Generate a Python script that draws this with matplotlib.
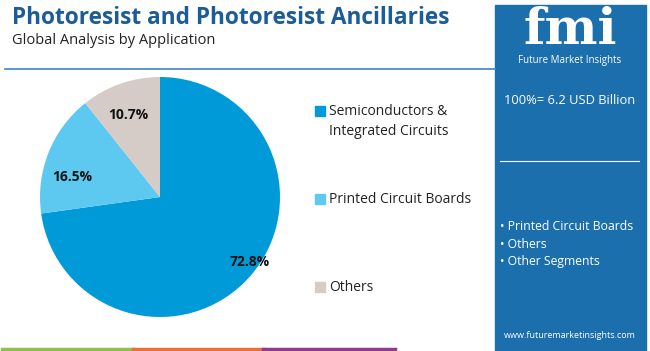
import matplotlib.pyplot as plt
from matplotlib.patches import Rectangle

categories = ["Semiconductors &\nIntegrated Circuits", "Printed Circuit Boards", "Others"]
shares = [72.8, 16.5, 10.7]
colors = ["#009ad9", "#5ec9f0", "#d6ccc7"]
bullets = ["• Printed Circuit Boards", "• Others", "• Other Segments"]

W, H = 650, 351
fig = plt.figure(figsize=(W / 100, H / 100), dpi=100)
plt.rcParams['font.family'] = ['Open Sans', 'DejaVu Sans']

def fx(x): return x / W
def fy(y): return 1 - y / H

# header
fig.text(fx(12), fy(18), "Photoresist and Photoresist Ancillaries", fontsize=16.3,
         fontweight='bold', color="#1c5c98", va='center', ha='left')
fig.text(fx(12), fy(40), "Global Analysis by Application", fontsize=10.5,
         color="#222222", va='center', ha='left')
fig.add_artist(plt.Line2D([fx(5), fx(495)], [fy(69), fy(69)], color="#3f86c2", lw=1.2))

# bottom colour strip
for x0, x1, c in [(2, 133, "#8cc152"), (133, 263, "#e8703a"), (263, 395, "#8e3b94")]:
    fig.add_artist(plt.Line2D([fx(x0), fx(x1)], [fy(349), fy(349)], color=c, lw=2.5))

# pie
ax = fig.add_axes([fx(40), fy(317), 240 / W, 240 / H])
wedges, _ = ax.pie(shares, colors=colors, startangle=90, counterclock=False,
                   wedgeprops=dict(linewidth=0))
ax.set_xlim(-1, 1)
ax.set_ylim(-1, 1)
ax.set_aspect('equal')
ax.axis('off')
label_pos = [(250, 262), (72, 177), (128, 115)]
for (x, y), s in zip(label_pos, shares):
    fig.text(fx(x), fy(y), f"{s}%", fontsize=10, fontweight='bold', color="#111111",
             ha='center', va='center')

# legend
leg_y = [111, 199, 287]
for y, lab, c in zip(leg_y, categories, colors):
    fig.add_artist(Rectangle((fx(315), fy(y + 5)), 10 / W, 10 / H, color=c))
    fig.text(fx(329), fy(y - 7), lab, fontsize=10, color="#222222", ha='left', va='top',
             linespacing=1.45)

# right panel
fig.add_artist(Rectangle((fx(495), fy(351)), 151 / W, 346 / H, color="#1b6fad"))
fig.text(fx(570), fy(30), "fmi", fontsize=36, fontweight='bold', family='DejaVu Serif',
         color="white", ha='center', va='center')
fig.text(fx(570), fy(60), "Future Market Insights", fontsize=7, color="white",
         ha='center', va='center')
fig.text(fx(570), fy(101), "100%= 6.2 USD Billion", fontsize=9.3, color="white",
         ha='center', va='center')
fig.add_artist(plt.Line2D([fx(500), fx(639)], [fy(161), fy(161)], color="white", lw=0.8))
for i, b in enumerate(bullets):
    fig.text(fx(500), fy(227 + 17 * i), b, fontsize=8.8, color="white", ha='left', va='center')
fig.text(fx(570), fy(336), "www.futuremarketinsights.com", fontsize=6.5, color="white",
         ha='center', va='center')

fig.savefig("out.png", dpi=100)
